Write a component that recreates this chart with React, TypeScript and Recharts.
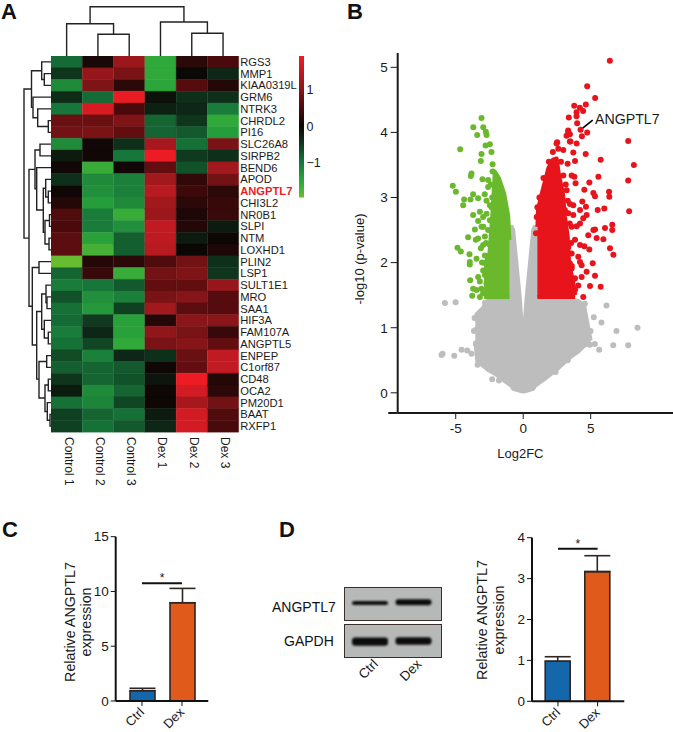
import {
  Area, AreaChart, Bar, BarChart, Cell, ErrorBar, Label, ReferenceDot, ReferenceLine,
  Scatter, ScatterChart, XAxis, YAxis,
} from "recharts";

const FONT = '"Liberation Sans", Arial, sans-serif';

// panel A
const genes = ["RGS3", "MMP1", "KIAA0319L", "GRM6", "NTRK3", "CHRDL2", "PI16", "SLC26A8", "SIRPB2", "BEND6", "APOD", "ANGPTL7", "CHI3L2", "NR0B1", "SLPI", "NTM", "LOXHD1", "PLIN2", "LSP1", "SULT1E1", "MRO", "SAA1", "HIF3A", "FAM107A", "ANGPTL5", "ENPEP", "C1orf87", "CD48", "OCA2", "PM20D1", "BAAT", "RXFP1"];
const samples = ["Control 1", "Control 2", "Control 3", "Dex 1", "Dex 2", "Dex 3"];
const heat = [
  [-0.9, 0.1, 1.2, -1.55, 0.25, 0.5],
  [-0.45, 1.15, 0.9, -1.55, -0.02, -0.3],
  [-1.2, 0.95, 0.25, -1.5, 0.6, 0.2],
  [-0.35, -0.9, 1.9, -0.1, -0.4, -0.4],
  [-1.0, 1.75, 0.5, -0.25, -0.3, -1.05],
  [0.75, 0.75, 0.95, -0.85, -0.45, -1.55],
  [0.85, 0.9, 0.7, -0.85, -0.75, -1.4],
  [-1.2, 0.05, -0.4, 1.3, -0.95, 0.9],
  [-0.2, 0.05, -1.0, 1.95, -0.5, -0.4],
  [0.05, -1.6, 0.05, 0.7, -0.7, 1.25],
  [-0.4, -1.2, -1.1, 1.25, 0.3, 0.85],
  [0.03, -1.25, -1.1, 1.45, 0.4, 0.25],
  [0.2, -1.4, -1.2, 1.25, 0.25, 0.35],
  [0.55, -1.05, -1.6, 1.2, 0.15, 0.35],
  [0.5, -1.05, -1.25, 1.55, 0.2, -0.2],
  [0.65, -1.45, -0.8, 1.5, -0.2, 0.02],
  [0.65, -1.7, -0.8, 1.45, 0.0, 0.15],
  [-1.95, 0.2, 0.25, 0.55, 0.85, -0.4],
  [-0.85, 0.35, -1.6, 0.85, 0.95, -0.45],
  [-1.05, -1.0, -0.75, 0.7, 0.7, 1.15],
  [-0.7, -1.25, -1.1, 0.9, 1.0, 0.6],
  [-0.95, -1.35, -0.55, 1.25, 0.65, 0.6],
  [-0.9, -0.5, -1.45, 0.2, 1.05, 1.05],
  [-1.05, -0.3, -1.45, 1.1, 0.9, 0.35],
  [-0.95, -0.6, -1.55, 0.9, 1.0, 0.7],
  [-0.65, -1.1, -0.3, -0.4, 0.75, 1.55],
  [-0.8, -0.85, -0.75, 0.02, 0.7, 1.55],
  [-0.45, -0.85, -0.7, -0.15, 1.95, 0.2],
  [-0.2, -1.2, -0.85, 0.02, 1.7, 0.25],
  [-0.95, -1.15, -0.6, 0.02, 1.3, 0.85],
  [-0.55, -0.85, -0.95, -0.2, 1.7, 0.55],
  [-0.55, -0.95, -0.75, -0.3, 1.7, 0.5],
];
const colorStops: [number, number[]][] = [
  [-1.97, [106, 189, 46]],
  [-1.5, [42, 166, 59]],
  [-1, [23, 119, 58]],
  [-0.5, [15, 58, 31]],
  [0, [11, 7, 5]],
  [0.5, [74, 10, 12]],
  [1, [133, 21, 24]],
  [1.5, [189, 26, 34]],
  [1.94, [237, 28, 36]],
];
// [colA, heightA, colB, heightB, height]
const columnBranches = [
  [1.5, 0, 2.5, 0, 21.7],
  [0.5, 0, 2, 21.7, 32.3],
  [4.5, 0, 5.5, 0, 22.7],
  [3.5, 0, 5, 22.7, 34],
  [1.25, 32.3, 4.25, 34, 49.3],
];
// [rowA, depthA, rowB, depthB, depth]
const rowBranches = [
  [1, 0, 2, 0, 6.7], [0, 0, 1.5, 6.7, 9.3], [5, 0, 6, 0, 2.7], [4, 0, 5.5, 2.7, 13.3],
  [3, 0, 4.75, 13.3, 18], [0.75, 9.3, 3.875, 18, 19.5], [7, 0, 8, 0, 11], [11, 0, 12, 0, 2.7],
  [10, 0, 11.5, 2.7, 5.3], [13, 0, 14, 0, 1.5], [15, 0, 16, 0, 2], [13.5, 1.5, 15.5, 2, 6],
  [10.75, 5.3, 14.5, 6, 7.7], [9, 0, 12.6, 7.7, 14.3], [7.5, 11, 10.8, 14.3, 16],
  [17, 0, 18, 0, 12], [20, 0, 21, 0, 4], [19, 0, 20.5, 4, 5], [23, 0, 24, 0, 2.7],
  [22, 0, 23.5, 2.7, 6.7], [19.75, 5, 22.75, 6.7, 9.3], [25, 0, 26, 0, 4.3], [27, 0, 28, 0, 2.7],
  [30, 0, 31, 0, 1], [29, 0, 30.5, 1, 3.7], [27.5, 2.7, 29.75, 3.7, 6], [25.5, 4.3, 28.6, 6, 12],
  [21.25, 9.3, 27, 12, 14.3], [17.5, 12, 24.1, 14.3, 18.7], [9.15, 16, 20.8, 18.7, 22],
  [2.31, 19.5, 15, 22, 27],
];
const colorBarTicks = [-1, 0, 1];

// panel B, [x, low, high] for the solid parts of the cloud
const grayCloud = [
  [-3.55, 0.8, 1.1], [-3.4, 0.48, 1.22], [-3, 0.42, 1.3], [-2.6, 0.35, 1.42], [-2, 0.28, 1.42],
  [-1.5, 0.2, 1.42], [-1.02, 0.13, 1.42], [-1.02, 0.13, 2.3], [-0.85, 0.1, 2.55], [-0.74, 0.06, 2.5],
  [-0.25, 0.03, 1.45], [0, 0.02, 0.72], [0.25, 0.03, 1.45], [0.74, 0.06, 2.5], [0.85, 0.1, 2.55],
  [1.02, 0.13, 2.3], [1.02, 0.13, 1.42], [1.5, 0.2, 1.42], [2.5, 0.36, 1.42], [3.5, 0.55, 1.42],
  [4, 0.62, 1.42], [4.5, 0.72, 1.35], [5, 0.76, 0.8],
];
const greenCloud = [
  [-2.9, 1.47, 1.95], [-2.5, 1.47, 2.15], [-2.3, 1.47, 2.7], [-2.1, 1.47, 3.4], [-1.8, 1.47, 3.3],
  [-1.41, 1.47, 3.06], [-1.11, 1.47, 2.72], [-1.02, 1.47, 2.35],
];
const redCloud = [
  [1.05, 1.47, 2.55], [1.1, 1.47, 2.82], [1.36, 1.47, 3.05], [1.86, 1.47, 3.45], [2.2, 1.47, 3.58],
  [2.48, 1.47, 3.6], [2.65, 1.47, 3.35], [2.95, 1.47, 3.05], [3.1, 1.47, 2.7], [3.3, 1.47, 2.4],
  [3.4, 1.47, 2], [3.7, 1.47, 1.7], [3.85, 1.47, 1.5],
];
const grayDots = [
  [-5.8, 1.38], [-5.01, 1.39], [6.17, 1.34], [5.23, 1.16], [5.8, 1.08], [8.47, 1], [6.91, 0.95], [7.78, 0.73],
  [6.67, 0.73], [5.63, 0.66], [5.31, 0.75], [4.94, 0.74], [4.99, 0.95], [4.57, 0.97], [4.4, 1.04], [4.44, 1.16],
  [4.57, 1.37], [4.2, 1.28], [-5.98, 0.6], [-6.05, 0.58], [-5.11, 0.57], [-4.57, 0.66], [-4.15, 0.65], [-3.83, 0.6],
  [-3.38, 0.43], [-2.3, 0.21], [-1.8, 0.19], [-3.41, 1.19], [-3.5, 0.97], [-3.33, 0.69], [-2.84, 1.38], [-3.6, 1.15],
  [-3.65, 0.95], [-3.5, 0.75], [3.9, 0.85], [4.1, 0.95], [-2.9, 0.5], [2.4, 0.32], [3.3, 0.5],
];
const greenDots = [
  [-3.09, 4.22], [-3.7, 4.08], [-2.96, 4.08], [-2.77, 4.01], [-3.41, 3.96], [-2.72, 3.96], [-2.79, 3.8], [-2.47, 3.82],
  [-4.67, 3.74], [-2.35, 3.7], [-3.09, 3.67], [-3.14, 3.56], [-2.27, 3.51], [-3.83, 3.37], [-3.88, 3.33], [-3.02, 3.28],
  [-2.6, 3.27], [-5.22, 3.18], [-4.99, 3.09], [-2.6, 3.16], [-3.71, 3.05], [-4.38, 2.97], [-3.91, 2.97], [-3.34, 2.99],
  [-4.45, 2.88], [-2.72, 2.95], [-2.47, 2.88], [-3.71, 2.73], [-3.21, 2.78], [-2.72, 2.75], [-3.34, 2.64], [-2.97, 2.7],
  [-2.47, 2.65], [-3.58, 2.51], [-3.09, 2.55], [-2.6, 2.5], [-3.34, 2.37], [-2.84, 2.4], [-4.08, 2.39], [-2.47, 2.27],
  [-2.97, 2.27], [-3.51, 2.35], [-4.87, 2.23], [-4.62, 2.17], [-3.14, 2.22], [-3.98, 2.13], [-2.84, 2.11], [-3.46, 2.06],
  [-3.96, 2.01], [-3.96, 1.97], [-2.6, 2.01], [-2.97, 1.88], [-3.34, 1.78], [-2.84, 1.81], [-3.93, 1.73], [-3.21, 1.71],
  [-3.71, 1.6], [-2.72, 1.68], [-3.46, 1.58], [-3.78, 1.49], [-3.21, 1.47], [-2.97, 1.53], [-2.27, 3.4], [-2.4, 3.2],
  [-2.3, 3], [-2.35, 2.85], [-2.2, 2.5], [-2.85, 3.05], [-2.95, 2.55], [-2.75, 2.3], [-3.05, 2], [-3.1, 1.6],
];
const redDots = [
  [6.42, 5.1], [4.74, 4.71], [5.33, 4.53], [3.78, 4.41], [4.64, 4.43], [4.2, 4.38], [4.44, 4.33], [3.95, 4.31],
  [3.95, 4.25], [3.38, 4.23], [4, 4.14], [3.33, 4.03], [4.25, 4.04], [4.74, 4], [4.35, 3.94], [3.21, 3.95],
  [3.46, 3.97], [3.5, 3.86], [7.78, 3.87], [8.2, 3.5], [7.78, 3.26], [7.85, 2.79], [3.34, 4.01], [3.46, 3.86],
  [3.96, 3.83], [2.47, 3.83], [2.97, 3.73], [3.71, 3.69], [4.63, 3.67], [3.29, 3.52], [3.84, 3.56], [5.74, 3.58],
  [2.97, 3.34], [3.59, 3.34], [3.79, 3.32], [5.57, 3.32], [3.88, 3.22], [4.9, 3.23], [4.53, 3.12], [5.2, 3.07],
  [5.32, 3.02], [6.36, 3.09], [6.38, 3.01], [3.22, 3.11], [3.46, 2.9], [3.71, 2.88], [4.38, 2.94], [4.65, 2.86],
  [4.21, 2.81], [3.09, 2.81], [5.52, 2.81], [6.01, 2.83], [3.71, 2.73], [3.34, 2.76], [4.7, 2.73], [4.45, 2.68],
  [4.21, 2.6], [3.96, 2.56], [3.59, 2.55], [5.32, 2.51], [5.2, 2.5], [6.06, 2.53], [6.6, 2.58], [6.6, 2.5],
  [4.82, 2.42], [5.44, 2.38], [5.94, 2.36], [3.84, 2.35], [4.21, 2.27], [4.53, 2.25], [4.9, 2.2], [3.34, 2.24],
  [3.59, 2.14], [6.43, 2.22], [6.68, 2.12], [4.08, 2.09], [4.21, 2.01], [3.46, 1.99], [5.15, 1.99], [4.33, 1.96],
  [3.59, 1.91], [4.7, 1.86], [4.33, 1.78], [5.32, 1.8], [3.84, 1.76], [4.08, 1.65], [4.95, 1.64], [5.74, 1.63],
  [4.45, 1.47], [3.84, 1.58], [2.52, 3.85], [2.6, 3.75], [2.2, 3.7], [1.9, 3.55], [1.5, 3.3], [1.2, 3],
  [1, 2.7], [0.95, 2.45], [1.05, 2.85], [2.8, 3.55], [3.15, 3.2], [3.3, 2.95], [3.45, 2.6], [3.55, 2.3],
  [3.6, 1.95], [3.75, 1.75],
];
const xTicksB = [-5, 0, 5];
const yTicksB = [0, 1, 2, 3, 4, 5];

// panels C and D
const groups = ["Ctrl", "Dex"];
const cMeans = [0.94, 8.97];
const cErrors = [0.22, 1.31];
const cTicks = [0, 5, 10, 15];
const dMeans = [0.98, 3.17];
const dErrors = [0.11, 0.39];
const dTicks = [0, 1, 2, 3, 4];
const barColors = ["#1567ab", "#e05a1c"];
// band extents on the blots, as a share of the strip height
const blotAngptl7 = [[0.47, 0.59], [0.46, 0.64]];
const blotGapdh = [[0.36, 0.6], [0.39, 0.61]];

function heatColor(v: number) {
  let i = 0;
  while (i < colorStops.length - 2 && v > colorStops[i + 1][0]) i++;
  const [a, ca] = colorStops[i];
  const [b, cb] = colorStops[i + 1];
  const t = Math.max(0, Math.min(1, (v - a) / (b - a)));
  const c = ca.map((n, k) => Math.round(n + (cb[k] - n) * t));
  return `rgb(${c[0]},${c[1]},${c[2]})`;
}

const toPoints = (list: number[][]) => list.map(([x, y]) => ({ x, y }));
const noDot = () => <g />;
const dotShape = (color: string) => (p: any) => <circle cx={p.cx} cy={p.cy} r={3} fill={color} />;

const GeneTick = ({ x, y, payload }: any) => (
  <text x={x} y={y} dy={4} fontSize={11.2} fill={payload.value === "ANGPTL7" ? "#ed1c24" : "#1a1a1a"} fontWeight={payload.value === "ANGPTL7" ? 700 : 400}>
    {payload.value}
  </text>
);

const SampleTick = ({ x, y, payload }: any) => (
  <text x={x - 2} y={y + 5} transform={`rotate(90 ${x - 2} ${y + 5})`} fontSize={12} fill="#1a1a1a">
    {samples[Math.floor(payload.value)]}
  </text>
);

const SlantTick = ({ x, y, payload, dx = 3, dy = 7, size = 13 }: any) => (
  <text x={x + dx} y={y + dy} transform={`rotate(-45 ${x + dx} ${y + dy})`} textAnchor="end" fontSize={size} fill="#1a1a1a">
    {payload.value}
  </text>
);

function Heatmap() {
  const rows = genes.map((gene) => {
    const row: any = { gene };
    samples.forEach((_, i) => (row[`s${i}`] = 1));
    return row;
  });
  return (
    <BarChart width={260} height={436} data={rows} layout="vertical" barCategoryGap={0} margin={{ top: 0, right: 0, bottom: 0, left: 0 }}>
      <XAxis type="number" domain={[0, 6]} ticks={[0.5, 1.5, 2.5, 3.5, 4.5, 5.5]} height={60} axisLine={false} tickLine={false} tickSize={0} tickMargin={0} tick={<SampleTick />} />
      <YAxis type="category" dataKey="gene" orientation="right" width={72.3} interval={0} axisLine={false} tickLine={false} tickSize={0} tickMargin={1.5} tick={<GeneTick />} />
      {samples.map((_, c) => (
        <Bar key={c} dataKey={`s${c}`} stackId="heat" isAnimationActive={false}>
          {heat.map((r, i) => (
            <Cell key={i} fill={heatColor(r[c])} stroke={heatColor(r[c])} strokeWidth={0.3} />
          ))}
        </Bar>
      ))}
    </BarChart>
  );
}

function ColumnTree() {
  return (
    <ScatterChart width={187.7} height={56} margin={{ top: 0, right: 0, bottom: 0, left: 0 }}>
      <XAxis type="number" dataKey="x" domain={[0, 6]} hide />
      <YAxis type="number" dataKey="y" domain={[0, 56]} hide />
      {columnBranches.map(([a, ha, b, hb, h], i) => (
        <Scatter key={i} data={toPoints([[a, ha], [a, h], [b, h], [b, hb]])} line={{ stroke: "#222", strokeWidth: 1.4 }} shape={noDot} isAnimationActive={false} />
      ))}
    </ScatterChart>
  );
}

function RowTree() {
  return (
    <ScatterChart width={30} height={376} margin={{ top: 0, right: 0, bottom: 0, left: 0 }}>
      <XAxis type="number" dataKey="x" domain={[0, 30]} reversed hide />
      <YAxis type="number" dataKey="y" domain={[-0.5, 31.5]} reversed hide />
      {rowBranches.map(([a, da, b, db, d], i) => (
        <Scatter key={i} data={toPoints([[da, a], [d, a], [d, b], [db, b]])} line={{ stroke: "#222", strokeWidth: 1.4 }} shape={noDot} isAnimationActive={false} />
      ))}
    </ScatterChart>
  );
}

function ColorBar() {
  return (
    <BarChart width={40} height={141.6} data={[{ range: [-1.97, 1.94] }]} barCategoryGap={0} margin={{ top: 0, right: 0, bottom: 0, left: 0 }}>
      <defs>
        <linearGradient id="heatScale" x1="0" y1="1" x2="0" y2="0">
          {colorStops.map(([v]) => (
            <stop key={v} offset={(v + 1.97) / 3.91} stopColor={heatColor(v)} />
          ))}
        </linearGradient>
      </defs>
      <XAxis hide />
      <YAxis orientation="right" domain={[-1.97, 1.94]} ticks={colorBarTicks} width={35} axisLine={false} tickLine={false} tickSize={0} tickMargin={2.5} tick={{ fontSize: 12.5, fill: "#1a1a1a" }} tickFormatter={(v) => (v < 0 ? `\u2212${-v}` : `${v}`)} />
      <Bar dataKey="range" fill="url(#heatScale)" isAnimationActive={false} />
    </BarChart>
  );
}

const volcanoMargin = { top: 13, right: 0, bottom: 40, left: 57.7 };

function CloudLayer({ rows, color }: { rows: number[][]; color: string }) {
  const data = rows.map(([x, low, high]) => ({ x, band: [low, high] }));
  return (
    <div style={{ position: "absolute", left: 0, top: 0 }}>
      <AreaChart width={333} height={413} data={data} margin={volcanoMargin}>
        <XAxis type="number" dataKey="x" domain={[-9.3, 11.1]} hide />
        <YAxis type="number" domain={[-0.31, 5.22]} hide />
        <Area type="linear" dataKey="band" stroke={color} strokeWidth={4} strokeLinejoin="round" fill={color} fillOpacity={1} dot={false} activeDot={false} isAnimationActive={false} />
      </AreaChart>
    </div>
  );
}

function Volcano() {
  return (
    <div style={{ position: "absolute", left: 340, top: 40, width: 333, height: 425 }}>
      <CloudLayer rows={grayCloud} color="#bdbdbd" />
      <CloudLayer rows={greenCloud} color="#6ab92d" />
      <CloudLayer rows={redCloud} color="#e8141c" />
      <div style={{ position: "absolute", left: 0, top: 0 }}>
        <ScatterChart width={333} height={423} margin={{ top: 13, right: 0, bottom: 0, left: 0 }}>
          <XAxis type="number" dataKey="x" domain={[-9.3, 11.1]} ticks={xTicksB} height={50} stroke="#1a1a1a" axisLine={{ strokeWidth: 2 }} tickSize={6} tickMargin={4} tick={{ fontSize: 13.5, fill: "#1a1a1a" }} label={{ value: "Log2FC", position: "insideBottom", offset: 5, dx: -15, fontSize: 13, fill: "#1a1a1a" }} />
          <YAxis type="number" dataKey="y" domain={[-0.31, 5.22]} ticks={yTicksB} width={57.7} stroke="#1a1a1a" axisLine={{ strokeWidth: 2 }} tickSize={7} tickMargin={3} tick={{ fontSize: 13.5, fill: "#1a1a1a" }} label={{ value: "-log10 (p-value)", angle: -90, position: "insideLeft", offset: 13, dy: 26, dx: 6, style: { textAnchor: "middle" }, fontSize: 13, fill: "#1a1a1a" }} />
          <Scatter data={toPoints(grayDots)} shape={dotShape("#bdbdbd")} isAnimationActive={false} />
          <Scatter data={toPoints(greenDots)} shape={dotShape("#6ab92d")} isAnimationActive={false} />
          <Scatter data={toPoints(redDots)} shape={dotShape("#e8141c")} isAnimationActive={false} />
          <ReferenceLine segment={[{ x: -10, y: -0.31 }, { x: -9.3, y: -0.31 }]} ifOverflow="visible" stroke="#1a1a1a" strokeWidth={2} />
          <ReferenceLine segment={[{ x: 4.2, y: 4.03 }, { x: 5.15, y: 4.19 }]} stroke="#000" strokeWidth={1.6} />
          <ReferenceDot x={4.95} y={4.2} r={0} fill="none" stroke="none" label={{ value: "ANGPTL7", position: "right", fontSize: 14.2, fill: "#1a1a1a" }} />
        </ScatterChart>
      </div>
    </div>
  );
}

function TwoLineTitle({ viewBox, x1, x2, cy }: any) {
  const left = viewBox.x;
  return (
    <g fontSize={14.3} fill="#1a1a1a" textAnchor="middle">
      <text x={left + x1} y={cy} transform={`rotate(-90 ${left + x1} ${cy})`} dominantBaseline="central">Relative ANGPTL7</text>
      <text x={left + x2} y={cy} transform={`rotate(-90 ${left + x2} ${cy})`} dominantBaseline="central">expression</text>
    </g>
  );
}

type ExpressionProps = {
  means: number[]; errors: number[]; ticks: number[]; yMax: number; sigY: number;
  width: number; axisWidth: number; marginTop: number; plotHeight: number; padLeft: number; padRight: number;
  x1: number; x2: number; cy: number;
};

function ExpressionBars(props: ExpressionProps) {
  const { means, errors, ticks, yMax, sigY, width, axisWidth, marginTop, plotHeight, padLeft, padRight, x1, x2, cy } = props;
  const data = groups.map((name, i) => ({ name, mean: means[i], err: [0, errors[i]] }));
  return (
    <BarChart width={width} height={212} data={data} barSize={25} margin={{ top: marginTop, right: 10, bottom: 212 - marginTop - plotHeight - 31, left: 0 }}>
      <XAxis dataKey="name" height={31} stroke="#111" axisLine={{ strokeWidth: 2 }} tickSize={5} tickMargin={0} padding={{ left: padLeft, right: padRight }} tick={<SlantTick />} interval={0} />
      <YAxis domain={[0, yMax]} ticks={ticks} width={axisWidth} stroke="#111" axisLine={{ strokeWidth: 2 }} tickSize={5} tickMargin={2} tick={{ fontSize: 13.5, fill: "#1a1a1a" }}>
        <Label content={(p: any) => <TwoLineTitle viewBox={p.viewBox} x1={x1} x2={x2} cy={cy} />} />
      </YAxis>
      <Bar dataKey="mean" stroke="#2f2523" strokeWidth={1.6} isAnimationActive={false}>
        {data.map((_, i) => (
          <Cell key={i} fill={barColors[i]} />
        ))}
        <ErrorBar dataKey="err" direction="y" width={13} stroke="#2f2523" strokeWidth={1.6} />
      </Bar>
      <ReferenceLine segment={[{ x: "Ctrl", y: sigY }, { x: "Dex", y: sigY }]} stroke="#111" strokeWidth={1.8} label={{ value: "*", position: "top", fontSize: 12, fill: "#1a1a1a", offset: 1 }} />
    </BarChart>
  );
}

const bandShape = (p: any) => (
  <rect x={p.x} y={p.y} width={p.width} height={p.height} rx={3} fill="#0c0c0c" style={{ filter: "blur(0.9px)" }} />
);

function Blot({ bands, labelled }: { bands: number[][]; labelled?: boolean }) {
  const data = groups.map((name, i) => ({ name, band: bands[i] }));
  const extra = labelled ? 36 : 0;
  return (
    <BarChart width={110} height={34 + extra} data={data} barSize={36} margin={{ top: 0, right: 12, bottom: 0, left: 0 }}>
      <XAxis dataKey="name" height={extra} hide={!labelled} axisLine={false} tickLine={false} tickSize={0} tickMargin={0} padding={{ left: 4, right: 7 }} tick={<SlantTick dx={9} dy={7} size={13.5} />} interval={0} />
      <YAxis domain={[0, 1]} hide />
      <Bar dataKey="band" shape={bandShape} isAnimationActive={false} />
    </BarChart>
  );
}

const boxStyle = (top: number): any => ({
  position: "absolute", left: 343.5, top, width: 98.5, height: 34, background: "#b6b9b8", outline: "1.6px solid #3a2f2d", outlineOffset: -1,
});

function Tag({ left, top, size, bold, children, width }: any) {
  return (
    <div style={{ position: "absolute", left, top, width, fontSize: size, lineHeight: `${size}px`, fontWeight: bold ? 700 : 400, color: "#111", whiteSpace: "nowrap" }}>
      {children}
    </div>
  );
}

const place = (left: number, top: number): any => ({ position: "absolute", left, top });

export default function App() {
  return (
    <div style={{ position: "absolute", left: 0, top: 0, width: 673, height: 732, overflow: "hidden", background: "#fff", fontFamily: FONT }}>
      <Tag left={1} top={1} size={22} bold>A</Tag>
      <Tag left={347} top={1} size={22} bold>B</Tag>
      <Tag left={2} top={519} size={22} bold>C</Tag>
      <Tag left={279} top={519} size={22} bold>D</Tag>

      <div style={place(51, 0)}><ColumnTree /></div>
      <div style={place(21, 56)}><RowTree /></div>
      <div style={place(299, 56)}><ColorBar /></div>
      <div style={place(51, 56)}><Heatmap /></div>

      <Volcano />

      <div style={place(60, 520)}>
        <ExpressionBars means={cMeans} errors={cErrors} ticks={cTicks} yMax={15} sigY={10.75} width={158.3} axisWidth={55.7} marginTop={16.7} plotHeight={164.3} padLeft={6.3} padRight={6.3} x1={10} x2={25.7} cy={102} />
      </div>
      <div style={place(471.7, 520)}>
        <ExpressionBars means={dMeans} errors={dErrors} ticks={dTicks} yMax={4} sigY={3.73} width={162.3} axisWidth={60} marginTop={17.7} plotHeight={163.6} padLeft={6.2} padRight={6.9} x1={10.3} x2={27.3} cy={100} />
      </div>

      <Tag left={272} top={600} size={14}>ANGPTL7</Tag>
      <Tag left={284} top={634} size={14}>GAPDH</Tag>
      <div style={boxStyle(586.7)} />
      <div style={boxStyle(624.3)} />
      <div style={place(343.5, 586.7)}><Blot bands={blotAngptl7} /></div>
      <div style={place(343.5, 624.3)}><Blot bands={blotGapdh} labelled /></div>
    </div>
  );
}
